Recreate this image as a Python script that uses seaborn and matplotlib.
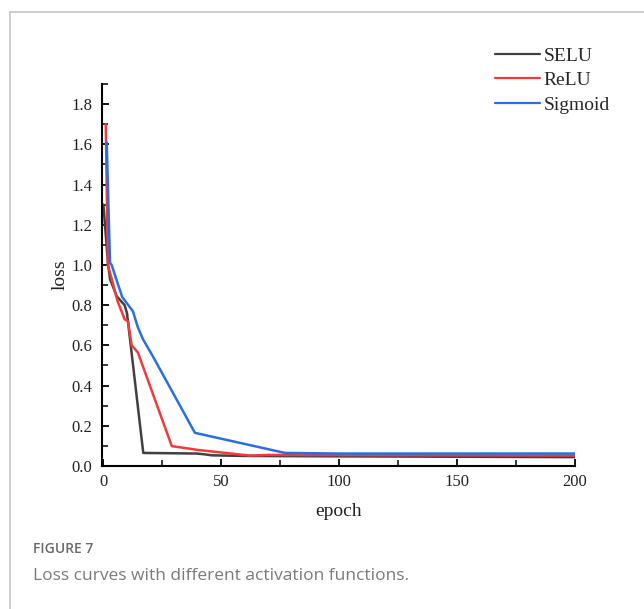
import matplotlib
matplotlib.use("Agg")
import matplotlib.pyplot as plt
from matplotlib.lines import Line2D
from matplotlib.ticker import MultipleLocator
import seaborn as sns
import pandas as pd

# ---- data ----
selu_epoch = [0, 2, 2.8, 5.6, 9, 10, 16.9, 39.5, 43, 46, 60, 100, 150, 200]
selu_loss = [1.30, 1.00, 0.93, 0.845, 0.80, 0.76, 0.065, 0.062, 0.058, 0.053, 0.050, 0.048, 0.046, 0.044]

relu_epoch = [1, 1.9, 3.5, 6, 9, 10.4, 12, 14.6, 29, 40, 62, 70, 100, 150, 200]
relu_loss = [1.70, 1.00, 0.93, 0.82, 0.73, 0.72, 0.60, 0.565, 0.099, 0.08, 0.052, 0.055, 0.054, 0.053, 0.052]

sig_epoch = [1.4, 2.8, 3.5, 6, 8, 12.5, 14.6, 16.8, 21, 38.8, 77, 100, 150, 200]
sig_loss = [1.61, 1.01, 1.00, 0.91, 0.84, 0.77, 0.69, 0.63, 0.545, 0.165, 0.065, 0.062, 0.062, 0.062]

series_names = ["SELU", "ReLU", "Sigmoid"]
series_colors = ["#404040", "#f23a3a", "#2a6fdc"]

x_label = "epoch"
y_label = "loss"
caption_title = "FIGURE 7"
caption_text = "Loss curves with different activation functions."

df = pd.concat([
    pd.DataFrame({"epoch": selu_epoch, "loss": selu_loss, "act": series_names[0]}),
    pd.DataFrame({"epoch": relu_epoch, "loss": relu_loss, "act": series_names[1]}),
    pd.DataFrame({"epoch": sig_epoch, "loss": sig_loss, "act": series_names[2]}),
], ignore_index=True)

sns.set_theme(style="ticks")
plt.rcParams["font.family"] = ["Liberation Serif", "DejaVu Serif"]

W, H = 644, 609
fig = plt.figure(figsize=(W / 100, H / 100), dpi=100)
ax = fig.add_axes([102 / W, 1 - 466 / H, (575 - 102) / W, (466 - 84) / H])

sns.lineplot(data=df, x="epoch", y="loss", hue="act", hue_order=series_names,
             palette=series_colors, sort=False, estimator=None, linewidth=1.8,
             ax=ax, legend=False)

ax.set_xlim(-0.6, 200)
ax.set_ylim(0, 1.9)
ax.xaxis.set_major_locator(MultipleLocator(50))
ax.xaxis.set_minor_locator(MultipleLocator(25))
ax.yaxis.set_major_locator(MultipleLocator(0.2))
ax.yaxis.set_minor_locator(MultipleLocator(0.1))
ax.set_yticks([0, 0.2, 0.4, 0.6, 0.8, 1.0, 1.2, 1.4, 1.6, 1.8])
ax.set_yticklabels(["0.0", "0.2", "0.4", "0.6", "0.8", "1.0", "1.2", "1.4", "1.6", "1.8"])

for s in ["top", "right"]:
    ax.spines[s].set_visible(False)
for s in ["left", "bottom"]:
    ax.spines[s].set_linewidth(1.5)
    ax.spines[s].set_color("black")

ax.tick_params(which="major", direction="in", length=5, width=1.3, colors="black",
               labelsize=12, labelcolor="#222222")
ax.tick_params(axis="y", which="major", pad=7)
ax.tick_params(axis="x", which="major", pad=6)
ax.tick_params(which="minor", direction="in", length=4, width=1.1, colors="black")

ax.set_xlabel(x_label, fontsize=14, labelpad=9, color="#222222")
ax.set_ylabel(y_label, fontsize=14, labelpad=2, color="#222222")

handles = [Line2D([0], [0], color=c, lw=1.6) for c in series_colors]
fig.legend(handles, series_names, loc="upper left",
           bbox_to_anchor=(495 / W, 1 - 47 / H), bbox_transform=fig.transFigure,
           frameon=False, fontsize=14, borderpad=0, borderaxespad=0,
           handlelength=2.3, handletextpad=0.2, labelspacing=0.36)

# page frame
fig.add_artist(Line2D([10 / W, 10 / W], [0, 1 - 12 / H], transform=fig.transFigure,
                      color="#c4c4c4", lw=1.2))
fig.add_artist(Line2D([10 / W, 1], [1 - 12 / H, 1 - 12 / H], transform=fig.transFigure,
                      color="#c4c4c4", lw=1.2))

fig.text(33 / W, 1 - 549 / H, caption_title, fontsize=10, color="#6a6a6a",
         family=["Open Sans", "DejaVu Sans"], fontweight="semibold", va="center", ha="left")
fig.text(33 / W, 1 - 576 / H, caption_text, fontsize=12.5, color="#7a7a7a",
         family=["Open Sans", "DejaVu Sans"], va="center", ha="left")

fig.savefig("out.png", dpi=100, facecolor="white")
